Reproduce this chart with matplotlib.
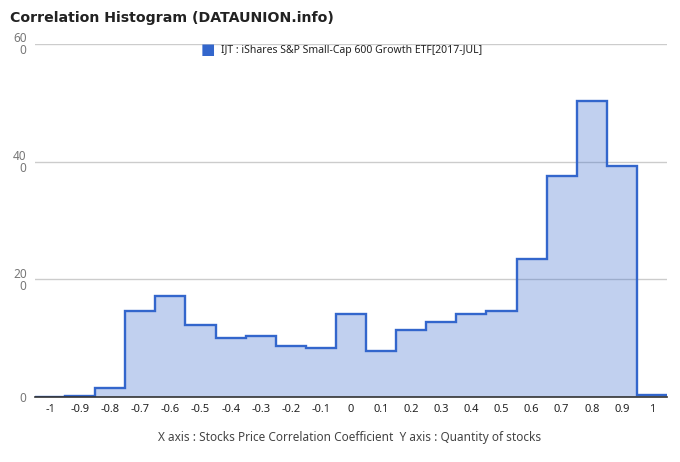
import numpy as np
import matplotlib.pyplot as plt

plt.rcParams['font.family'] = ['Noto Sans', 'DejaVu Sans']

# bin centers and counts
centers = [-1, -0.9, -0.8, -0.7, -0.6, -0.5, -0.4, -0.3, -0.2, -0.1, 0,
           0.1, 0.2, 0.3, 0.4, 0.5, 0.6, 0.7, 0.8, 0.9, 1]
counts = [0, 2, 16, 146, 172, 123, 101, 104, 87, 83, 141,
          78, 114, 127, 141, 146, 234, 376, 503, 393, 3]
xtick_labels = ['-1', '-0.9', '-0.8', '-0.7', '-0.6', '-0.5', '-0.4', '-0.3', '-0.2', '-0.1', '0',
                '0.1', '0.2', '0.3', '0.4', '0.5', '0.6', '0.7', '0.8', '0.9', '1']
yticks = [0, 200, 400, 600]
ytick_labels = ['0', '20\n0', '40\n0', '60\n0']
legend_label = 'IJT : iShares S&P Small-Cap 600 Growth ETF[2017-JUL]'

c = np.array(centers)
vals = np.array(counts)
edges = np.append(c - 0.05, c[-1] + 0.05)

fig = plt.figure(figsize=(6.8, 4.62), dpi=100)
ax = fig.add_axes([35 / 680, 65 / 462, 632 / 680, 353 / 462])

ax.fill_between(edges, np.append(vals, vals[-1]), step='post', color='#3366cc', alpha=0.3, lw=0)
ax.stairs(vals, edges, baseline=None, color='#3366cc', lw=1.7)

ax.set_xlim(-1.05, 1.05)
ax.set_ylim(0, 600)
ax.set_xticks(centers)
ax.set_xticklabels(xtick_labels, fontsize=8, color='#222222')
ax.set_yticks(yticks)
ax.set_yticklabels(ytick_labels, fontsize=8.5, color='#777777', linespacing=0.9)
ax.tick_params(length=0)
ax.tick_params(axis='x', pad=5)
ax.tick_params(axis='y', pad=6)
ax.grid(axis='y', color='#cccccc', lw=1)
ax.set_axisbelow(True)
for s in ['top', 'right', 'left']:
    ax.spines[s].set_visible(False)
ax.spines['bottom'].set_color('#333333')
ax.spines['bottom'].set_linewidth(1.2)
ax.spines['bottom'].set_zorder(5)

fig.text(10 / 680, 1 - 18 / 462, 'Correlation Histogram (DATAUNION.info)',
         fontsize=10.2, fontweight='bold', family='DejaVu Sans', color='#222222', va='center')

fig.text(201 / 680, 1 - 50 / 462, '\u25a0', fontsize=11, color='#3366cc', va='center')
fig.text(221 / 680, 1 - 50 / 462, legend_label, fontsize=7.5, color='#222222', va='center')

fig.text(350 / 680, 1 - 437 / 462,
         'X axis : Stocks Price Correlation Coefficient  Y axis : Quantity of stocks',
         fontsize=8.5, color='#444444', ha='center', va='center')

fig.savefig('out.png', dpi=100)
